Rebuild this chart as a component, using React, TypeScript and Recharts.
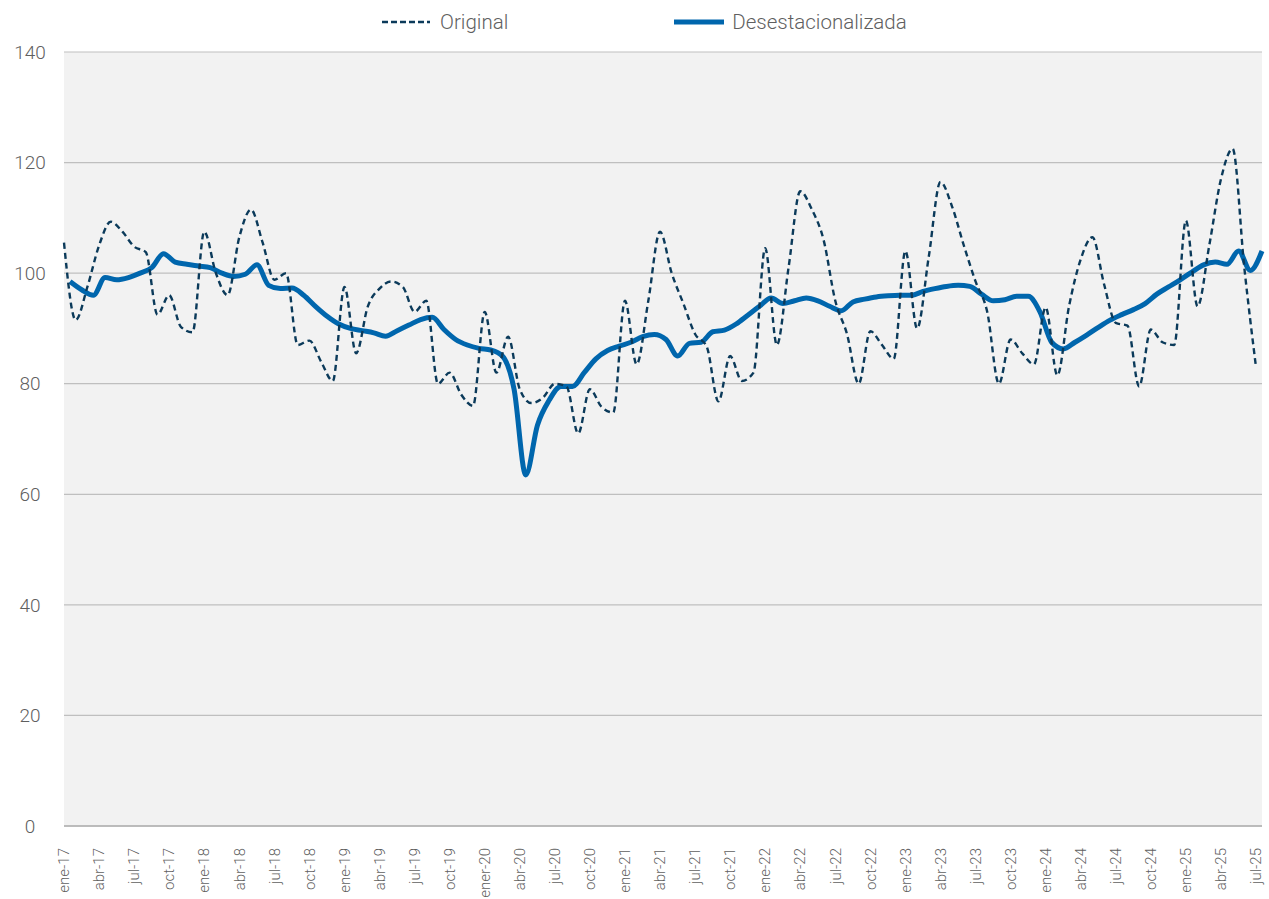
import { CartesianGrid, Legend, Line, LineChart, XAxis, YAxis } from "recharts";

const monthNames = ["ene", "feb", "mar", "abr", "may", "jun", "jul", "ago", "sep", "oct", "nov", "dic"];
const years = ["17", "18", "19", "20", "21", "22", "23", "24", "25"];
const lastMonths = 7; // the series stops at jul-25

// month labels; the source chart spells ene-20 as "ener-20"
const categories: string[] = [];
years.forEach((yy, yi) => {
  const count = yi === years.length - 1 ? lastMonths : 12;
  for (let m = 0; m < count; m++) {
    const label = `${monthNames[m]}-${yy}`;
    categories.push(label === "ene-20" ? "ener-20" : label);
  }
});

const original = [
  105.5, 91.5, 97.5, 105, 109.3, 107.5, 104.8, 103.8, 92.5, 96, 90.3, 89.3,
  107.5, 100, 96, 106.5, 111.5, 105.5, 98.8, 100, 87, 87.8, 84, 80.5,
  97.5, 85.5, 94, 97.2, 98.5, 97.5, 93, 95, 80, 82, 78, 76,
  93, 82, 88.5, 79, 76.5, 77.5, 80, 79.5, 71, 79, 75.8, 74.8,
  95, 83.5, 95, 107.5, 100, 94.5, 89, 86.7, 76.8, 85, 80.5, 82,
  104.5, 87, 101, 114.8, 111.5, 106, 95, 89, 80, 89.5, 87, 84.5,
  104, 90, 103, 116.5, 112, 105, 98.5, 93, 80, 88, 85.5, 83.5,
  93.8, 81.5, 94, 102.5, 106.5, 98, 91, 90.5, 79.5, 89.8, 87.5, 87,
  109.5, 94, 105, 117, 122.5, 101, 83,
];

const desestacionalizada = [
  98.5, 97, 96, 99.2, 98.8, 99.2, 100, 101, 103.5, 102, 101.6, 101.3,
  101, 100, 99.4, 99.8, 101.5, 97.8, 97.2, 97.3, 96, 94, 92.2, 90.8,
  90, 89.6, 89.2, 88.6, 89.6, 90.6, 91.6, 92, 89.8, 88, 87, 86.4,
  86.1, 85, 79, 63.5, 72.5, 77, 79.5, 79.5, 82, 84.5, 86, 86.8,
  87.5, 88.5, 88.9, 88, 85, 87.3, 87.5, 89.4, 89.7, 90.8, 92.4, 94,
  95.5, 94.5, 95, 95.5, 95, 94, 93.2, 94.8, 95.3, 95.7, 95.9, 96,
  96, 96.7, 97.2, 97.6, 97.8, 97.6, 96.2, 95, 95.2, 95.8, 95.8, 93,
  87.5, 86.3, 87.5, 88.8, 90.2, 91.5, 92.5, 93.4, 94.5, 96.2, 97.5, 98.8,
  100.2, 101.5, 102, 101.6, 104, 100.5, 104,
];

const yTicks = [0, 20, 40, 60, 80, 100, 120, 140];

const data = categories.map((month, i) => ({
  month,
  original: original[i],
  desestacionalizada: desestacionalizada[i],
}));

const FONT = "Roboto, 'Liberation Sans', Arial, sans-serif";
const TEXT = "#5f5f5f";
const NAVY = "#0b3a5a";
const BLUE = "#0066ad";

const XTick = ({ x, y, payload }: any) => (
  <text
    x={x}
    y={y}
    dx={-14}
    dy="0.35em"
    transform={`rotate(-90 ${x} ${y})`}
    textAnchor="end"
    fontFamily={FONT}
    fontWeight={300}
    fontSize={15}
    fill={TEXT}
  >
    {payload.value}
  </text>
);

const YTick = ({ y, payload }: any) => (
  <text x={30} y={y} dy="0.35em" textAnchor="middle" fontFamily={FONT} fontWeight={300} fontSize={19} fill={TEXT}>
    {payload.value}
  </text>
);

const renderLegend = () => (
  <div
    style={{
      display: "flex",
      alignItems: "center",
      height: 40,
      paddingLeft: 381,
      fontFamily: FONT,
      fontWeight: 300,
      fontSize: 20.5,
      color: TEXT,
    }}
  >
    <svg width={50} height={10}>
      <line x1={1} y1={5} x2={49} y2={5} stroke={NAVY} strokeWidth={2.5} strokeDasharray="6 3" />
    </svg>
    <span style={{ marginLeft: 9 }}>Original</span>
    <svg width={50} height={10} style={{ marginLeft: 166 }}>
      <line x1={0} y1={5} x2={50} y2={5} stroke={BLUE} strokeWidth={5} />
    </svg>
    <span style={{ marginLeft: 8 }}>Desestacionalizada</span>
  </div>
);

const App = () => (
  <div style={{ position: "absolute", left: 0, top: 0, background: "#fff" }}>
    <LineChart width={1269} height={899} data={data} margin={{ top: 12, right: 7, bottom: 0, left: 0 }}>
      <Legend verticalAlign="top" content={renderLegend} wrapperStyle={{ top: 2, left: 0, width: 1269 }} />
      <CartesianGrid xAxisId="orig" vertical={false} fill="#f2f2f2" stroke="#bfbfbf" strokeWidth={1.2} />
      <XAxis xAxisId="des" dataKey="month" hide height={0} padding={{ left: 6, right: 0 }} />
      <XAxis
        xAxisId="orig"
        dataKey="month"
        interval={2}
        height={73}
        padding={{ left: 0, right: 6 }}
        tickLine={false}
        axisLine={{ stroke: "#b0b0b0", strokeWidth: 1.5 }}
        tick={<XTick />}
      />
      <YAxis
        width={64}
        domain={[0, 140]}
        ticks={yTicks}
        axisLine={false}
        tickLine={false}
        tick={<YTick />}
      />
      <Line
        xAxisId="des"
        type="monotone"
        dataKey="desestacionalizada"
        stroke={BLUE}
        strokeWidth={5}
        dot={false}
        activeDot={false}
        isAnimationActive={false}
      />
      <Line
        xAxisId="orig"
        type="monotone"
        dataKey="original"
        stroke={NAVY}
        strokeWidth={2.4}
        strokeDasharray="6 4"
        dot={false}
        activeDot={false}
        isAnimationActive={false}
      />
    </LineChart>
  </div>
);

export default App;
